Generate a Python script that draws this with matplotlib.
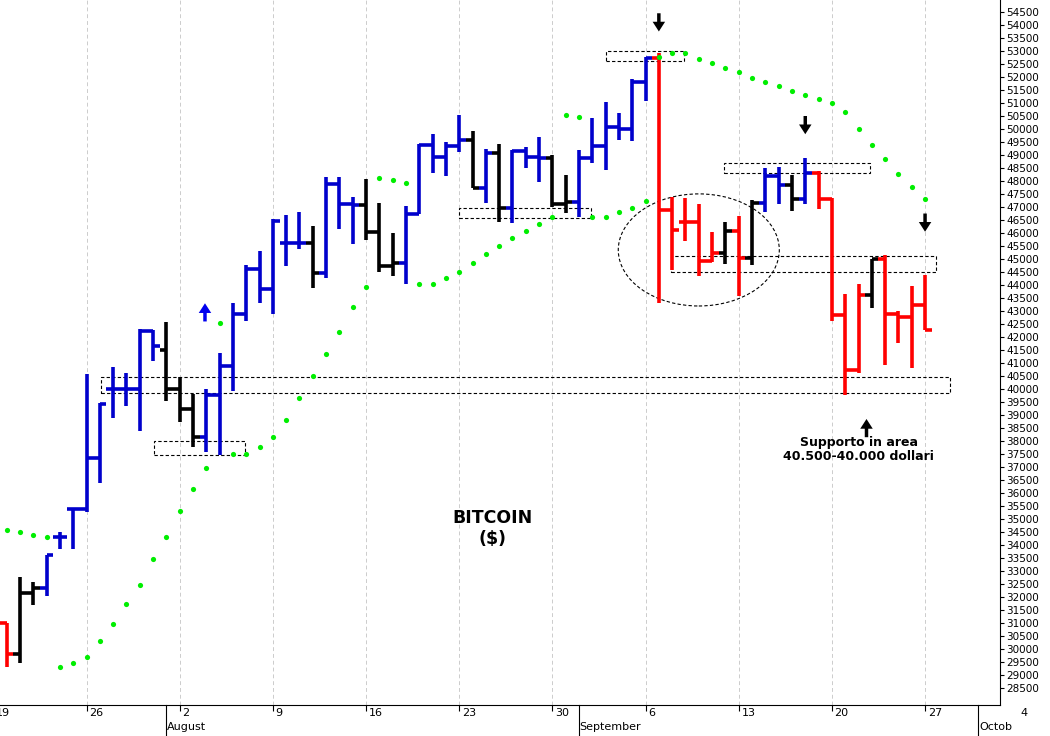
import matplotlib
matplotlib.use("Agg")
import matplotlib.pyplot as plt
from matplotlib.patches import Rectangle, Ellipse
from matplotlib.transforms import blended_transform_factory

opens = [31000,29800,32150,32350,34300,35400,35400,37350,40000,40000,40000,42230,41500,40000,39230,38150,39770,40880,42880,44620,43850,45620,45620,45620,44460,47880,47120,47080,46040,44730,44850,46730,49380,48920,49350,49580,47730,49080,46960,49150,48920,48880,47120,47190,48880,49350,50080,50000,51810,52730,46880,46420,46420,44920,45230,46080,45040,47150,48190,47850,47310,48310,47310,42850,40730,43620,45000,42880,42770,43230]
highs = [31000,32770,32580,33620,34500,35420,40580,39460,40850,40620,42300,42270,42580,40460,39810,40000,41380,43310,44770,45310,46540,46690,46810,46270,48150,48150,47390,48080,47150,46000,47040,49420,49800,49500,50540,49920,49230,49420,49190,49310,49690,49000,48230,49190,50420,51040,50620,51920,52770,52920,47380,47350,47120,46040,46420,46650,47270,48500,48540,48230,48880,48380,47350,43650,44040,45000,45150,43000,43960,44380]
lows  = [29310,29460,31700,32040,33850,33850,35270,36380,38880,39350,38390,41070,39540,38730,37770,37580,37460,39920,42620,43310,42880,44730,45380,43880,44270,46150,45580,45730,44500,44350,44040,46730,48310,48190,49120,47730,47150,46420,46380,48500,47960,47000,46770,46620,48690,48420,49580,49540,51080,43310,44580,45690,44350,44880,44810,43580,44770,46810,47120,46850,47120,46920,42620,39770,40620,43120,40920,41770,40810,42270]
closes= [29800,32150,32350,33620,34300,35400,37350,39420,40000,40000,42230,41650,40000,39230,38150,39770,40880,42880,44620,43850,46460,45620,45620,44460,47880,47120,47080,46040,44730,44850,46730,49380,48920,49350,49580,47730,49080,46960,49150,48920,48880,47120,47190,48880,49350,50080,50000,51810,52730,46880,46110,46420,44920,45230,46080,45040,47150,48190,47850,47310,48310,47310,42850,40730,43620,45000,42880,42770,43230,42270]
bar_colors = list("rkkbbbbbbbbbkkkbbbbbbbbkbbbkkkbbbbbkbkbbbkkbbbbbbrrrrrkrkbbkbrrrrkrrrr")
sar = [34580,34500,34385,34310,29310,29460,29690,30310,30960,31730,32460,33460,34310,35310,36150,36960,42540,37500,37500,37770,38150,38810,39650,40500,41350,42190,43150,43920,48120,48040,47920,44040,44040,44270,44500,44850,45190,45500,45810,46080,46350,46620,50540,50460,46620,46620,46810,46960,47230,52770,52920,52920,52690,52540,52350,52190,51960,51810,51650,51460,51310,51150,51000,50650,50000,49380,48850,48270,47770,47310]
week_pos = [-1,6,13,20,27,34,41,48,55,62,69,76]
week_labels = ["19","26","2","9","16","23","30","6","13","20","27","4"]
month_pos = [12,43,73]
month_labels = ["August","September","Octob"]
yticks = list(range(28500,55000,500))

cmap = {"r":"#ff0000","k":"#000000","b":"#0000cc"}
fig = plt.figure(figsize=(10.5,7.36), dpi=100)
ax = fig.add_axes([0,0.042,0.952,0.958])
for i,(o,h,l,c,col) in enumerate(zip(opens,highs,lows,closes,bar_colors)):
    cc = cmap[col]
    ax.plot([i,i],[l,h],color=cc,lw=2.6,solid_capstyle='butt')
    ax.plot([i-0.5,i],[o,o],color=cc,lw=2.6,solid_capstyle='butt')
    ax.plot([i,i+0.5],[c,c],color=cc,lw=2.6,solid_capstyle='butt')
ax.scatter(range(len(sar)),sar,s=14,color="#00ee00",zorder=3,linewidths=0)

for x0,x1,y0,y1 in [(45.0,50.9,52620,53000),(53.9,64.9,48310,48690),(34.0,43.9,46580,46960),
                    (49.9,69.8,44500,45120),(7.1,70.9,39850,40460),(11.1,17.9,37460,38000)]:
    ax.add_patch(Rectangle((x0,y0),x1-x0,y1-y0,fill=False,ls=(0,(3,2)),lw=0.8,color='black'))
ax.add_patch(Ellipse((52,45350),12.1,4310,fill=False,ls=(0,(3,2)),lw=0.8,color='black'))

def arrow(x,ytip,ytail,color='black'):
    ax.annotate('',xy=(x,ytip),xytext=(x,ytail),
                arrowprops=dict(width=2.5,headwidth=9,headlength=7,shrink=0,color=color,lw=0))
arrow(49,53750,54450)
arrow(60,49800,50500)
arrow(69,46050,46750)
arrow(64.6,38850,38150)
arrow(14.9,43300,42600,'#0000ee')

ax.text(36.5,34650,"BITCOIN\n($)",ha='center',va='center',fontsize=12.5,fontweight='bold',linespacing=1.2)
ax.text(64,37680,"Supporto in area\n40.500-40.000 dollari",ha='center',va='center',fontsize=9,fontweight='bold',linespacing=1.1)

ax.set_xlim(-0.5,74.6)
ax.set_ylim(27850,54960)
ax.yaxis.tick_right()
ax.set_yticks(yticks)
ax.set_yticklabels([str(v) for v in yticks],fontsize=7.5)
ax.tick_params(axis='y',length=3,pad=2)
ax.set_xticks([p for p in week_pos if -0.5 <= p <= 74.6])
ax.set_xticklabels([])
ax.tick_params(axis='x',length=4,direction='out')
for p in week_pos:
    ax.axvline(p,color='#cccccc',ls=(0,(4,3)),lw=0.7,zorder=0)
trans = blended_transform_factory(ax.transData,ax.transAxes)
for p,l in zip(week_pos,week_labels):
    ax.text(p+0.2,-0.004,l,transform=trans,ha='left',va='top',fontsize=8,clip_on=False)
for p,l in zip(month_pos,month_labels):
    ax.text(p+0.05,-0.024,l,transform=trans,ha='left',va='top',fontsize=8,clip_on=False)
    ax.plot([p,p],[0,-0.042],transform=trans,color='black',lw=0.8,clip_on=False)
for s in ['top','left']:
    ax.spines[s].set_visible(False)
fig.savefig("out.png",dpi=100)
